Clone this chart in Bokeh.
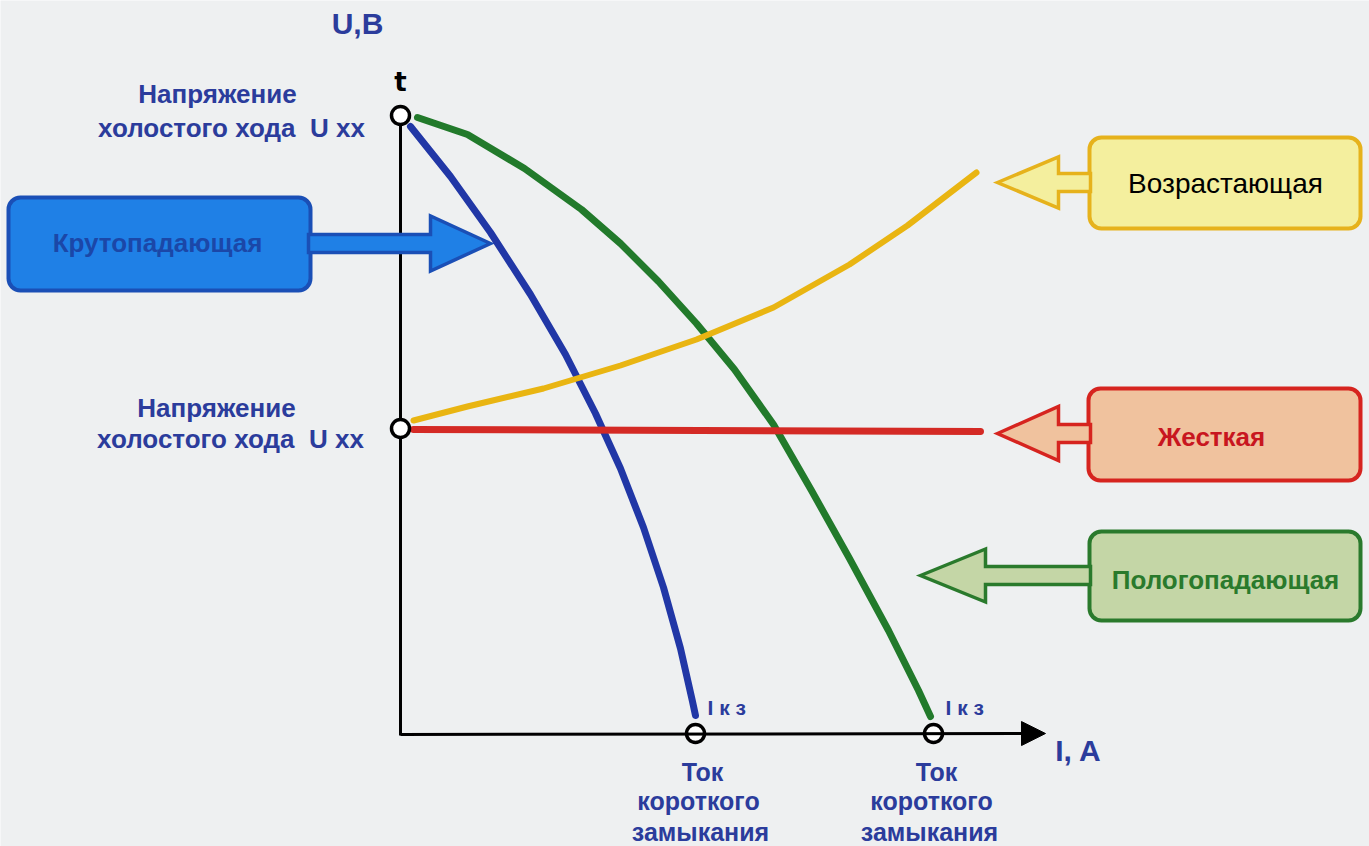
from bokeh.plotting import figure
from bokeh.models import Range1d, BoxAnnotation, Arrow, NormalHead, ColumnDataSource
from bokeh.core.properties import value
from bokeh.embed import file_html
from bokeh.resources import INLINE

# ---------------- data (I in arbitrary A units, U in arbitrary V units) ----------------
steep_I = [1.0, 5.0, 9.0, 13.0, 16.5, 19.5, 22.0, 24.3, 26.3, 28.0, 29.2, 29.5]
steep_U = [60.9, 55.9, 50.3, 44.1, 38.1, 32.2, 26.7, 20.8, 14.8, 8.7, 3.4, 2.0]

gentle_I = [1.7, 6.7, 12.4, 18.1, 22.0, 25.8, 29.6, 33.4, 37.3, 41.1, 44.9, 48.8, 51.8, 53.0]
gentle_U = [61.8, 60.1, 56.7, 52.6, 49.2, 45.4, 41.2, 36.6, 31.1, 24.5, 17.7, 10.5, 4.5, 1.9]

rising_I = [1.3, 6.7, 14.3, 22.0, 29.6, 37.3, 44.9, 50.7, 57.6]
rising_U = [31.5, 32.9, 34.7, 37.0, 39.6, 42.8, 47.1, 51.0, 56.3]

flat_I = [1.3, 58.0]
flat_U = [30.6, 30.4]

uxx_high = 62.0
uxx_low = 30.7
ikz_steep = 29.5
ikz_gentle = 53.3

curve_names = ["Крутопадающая", "Пологопадающая", "Возрастающая", "Жесткая"]

BG = "#eef0f1"
LBL = "#2b3c9c"
FONT = "Liberation Sans"

p = figure(width=1369, height=846, x_range=Range1d(-40.0, 96.9), y_range=Range1d(-11.1, 73.5),
           output_backend="svg", toolbar_location=None, min_border=0)
p.axis.visible = False
p.grid.visible = False
p.outline_line_color = None
p.background_fill_color = BG
p.border_fill_color = BG

# ---------------- axes ----------------
p.line([0, 0], [0, uxx_high], line_color="black", line_width=3)
p.add_layout(Arrow(end=NormalHead(size=24, fill_color="black", line_color="black"),
                   x_start=0, y_start=0.1, x_end=64.5, y_end=0.2,
                   line_color="black", line_width=3))

# ---------------- block arrows ----------------
def block_arrow(tip_x, tip_y, base_x, end_x, head_h, shaft_h):
    xs = [tip_x, base_x, base_x, end_x, end_x, base_x, base_x]
    ys = [tip_y, tip_y + head_h, tip_y + shaft_h, tip_y + shaft_h,
          tip_y - shaft_h, tip_y - shaft_h, tip_y - head_h]
    return xs, ys

arrows = [
    # tip_x, tip_y, base_x, end_x, head_h, shaft_h, fill, line
    (9.0, 49.2, 3.0, -9.2, 2.75, 0.9, "#1f80e6", "#1a4fb6"),
    (59.7, 55.3, 65.8, 69.0, 2.55, 0.9, "#f4ef9e", "#e6b21c"),
    (59.7, 30.2, 65.8, 69.0, 2.7, 0.9, "#f0c29e", "#d6241f"),
    (52.0, 16.0, 58.5, 69.0, 2.65, 0.9, "#c4d6a6", "#2a7a2c"),
]
for tx, ty, bx, ex, hh, sh, fc, lc in arrows:
    xs, ys = block_arrow(tx, ty, bx, ex, hh, sh)
    p.patch(xs, ys, fill_color=fc, line_color=lc, line_width=3.5, line_join="miter")

# ---------------- boxes ----------------
boxes = [
    (-39.2, -9.0, 53.8, 44.5, "#1f80e6", "#1a4fb6"),
    (68.9, 96.0, 59.8, 50.7, "#f4ef9e", "#e6b21c"),
    (68.8, 96.0, 34.7, 25.5, "#f0c29e", "#d6241f"),
    (68.9, 96.0, 20.4, 11.5, "#c4d6a6", "#2a7a2c"),
]
for l, r, t, b, fc, lc in boxes:
    p.add_layout(BoxAnnotation(left=l, right=r, top=t, bottom=b, fill_color=fc, fill_alpha=1.0,
                               line_color=lc, line_alpha=1.0, line_width=4, border_radius=12,
                               level="underlay"))

# ---------------- curves ----------------
p.line(steep_I, steep_U, line_color="#2137a6", line_width=7, line_cap="round", line_join="round")
p.line(gentle_I, gentle_U, line_color="#227a2b", line_width=7, line_cap="round", line_join="round")
p.line(rising_I, rising_U, line_color="#e9b512", line_width=6, line_cap="round", line_join="round")
p.line(flat_I, flat_U, line_color="#d42a25", line_width=7, line_cap="round")

# ---------------- key points ----------------
p.scatter([0, 0, ikz_steep, ikz_gentle], [uxx_high, uxx_low, 0.2, 0.2], marker="circle", size=18,
          fill_color="white", line_color="black", line_width=3.5)

# ---------------- texts ----------------
def texts(xs, ys, ts, size, color, style="bold", align="center", font=FONT):
    src = ColumnDataSource(dict(x=xs, y=ys, t=ts))
    p.text("x", "y", text="t", source=src, text_font=value(font), text_font_size=size,
           text_font_style=style, text_color=color, text_align=align, text_baseline="alphabetic")

uxx_text = "холостого хода\u00a0 U xx"
texts([-4.3], [71.2], ["U,B"], "30px", LBL)
texts([67.8], [-1.5], ["I, A"], "30px", LBL)
texts([-18.3, -16.9, -18.4, -17.0], [64.2, 60.8, 32.8, 29.7],
      ["Напряжение", uxx_text, "Напряжение", uxx_text], "26px", LBL)
texts([30.2, 29.8, 30.0, 53.6, 53.1, 52.9], [-3.6, -6.5, -9.6, -3.6, -6.5, -9.6],
      ["Ток", "короткого", "замыкания", "Ток", "короткого", "замыкания"], "25px", LBL)
texts([30.7, 54.5], [2.8, 2.8], ["I к з", "I к з"], "21px", LBL, align="left")
texts([0.0], [65.4], ["t"], "26px", "black", font="DejaVu Sans")

texts([-24.3], [49.3], [curve_names[0]], "26px", "#1b47a8")
texts([82.5], [55.2], [curve_names[2]], "28px", "black", style="normal")
texts([81.1], [29.9], [curve_names[3]], "26px", "#c8161f")
texts([82.5], [15.6], [curve_names[1]], "26px", "#2a7a2c")

open("out.html", "w").write(file_html(p, INLINE))
